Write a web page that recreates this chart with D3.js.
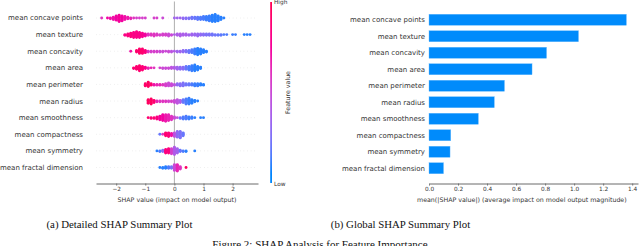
<!DOCTYPE html>
<html><head><meta charset="utf-8">
<script src="https://cdn.jsdelivr.net/npm/d3@7"></script>
<style>body{margin:0;background:#fff}svg{display:block}</style>
</head><body>
<svg id="c" width="640" height="246"></svg>
<script>
// ---------- data ----------
const features = ["mean concave points","mean texture","mean concavity","mean area","mean perimeter","mean radius","mean smoothness","mean compactness","mean symmetry","mean fractal dimension"];
const meanAbsShap = [1.36,1.03,0.81,0.71,0.52,0.45,0.34,0.15,0.145,0.10];
const binWidth = 0.1;
const binStart = [-2.5,-1.7,-1.5,-1.4,-1.0,-0.9,-0.9,-0.5,-0.6,-0.5];
const binCounts = [
  [1,0,1,2,4,7,10,8,5,3,2,1,1,1,1,1,0,0,1,1,0,1,0,0,0,1,1,1,2,2,2,3,3,4,4,5,6,8,10,11,8,4,1],
  [2,4,6,8,9,8,6,4,3,3,4,3,2,3,3,4,2,1,3,4,3,3,2,3,3,4,3,3,3,3,3,2,2,2,1,1,0,1,1,0,0,1,1,1],
  [1,0,3,7,7,4,2,2,2,2,2,2,1,2,2,1,2,2,3,3,4,5,8,10,8,5,2],
  [2,5,8,6,3,2,1,1,0,1,2,2,2,3,3,4,4,4,5,6,8,9,6,3],
  [4,7,3,2,2,2,2,4,5,4,2,3,4,5,3,3,3,4,4,3,2],
  [6,8,4,2,2,2,2,2,2,4,6,4,5,8,9,6,3,1],
  [1,2,2,4,6,9,10,9,6,3,1,2,4,5,4,3,1,0,1,1],
  [1,1,5,6,4,6,9,10,5],
  [1,2,3,6,7,8,11,7,3,2,2,0,0,1],
  [1,2,3,3,3,9,10,4,0,1]
];
const binFeatureValue = [
  [0.6,0.6,0.72,0.7,0.7,0.72,0.75,0.72,0.7,0.68,0.65,0.6,0.55,0.55,0.55,0.55,0.55,0.55,0.55,0.55,0.5,0.5,0.45,0.45,0.4,0.35,0.35,0.35,0.3,0.28,0.25,0.22,0.2,0.18,0.15,0.14,0.12,0.12,0.1,0.1,0.1,0.1,0.1],
  [0.82,0.85,0.85,0.82,0.82,0.8,0.78,0.72,0.6,0.6,0.6,0.58,0.55,0.55,0.55,0.5,0.5,0.4,0.4,0.4,0.38,0.38,0.35,0.35,0.33,0.32,0.3,0.28,0.25,0.25,0.22,0.22,0.2,0.18,0.15,0.15,0.12,0.12,0.12,0.1,0.1,0.1,0.1,0.1],
  [0.7,0.8,0.9,0.92,0.9,0.85,0.6,0.55,0.55,0.55,0.5,0.5,0.5,0.5,0.45,0.4,0.35,0.35,0.3,0.25,0.2,0.15,0.12,0.1,0.1,0.1,0.1],
  [0.88,0.9,0.9,0.88,0.8,0.65,0.65,0.6,0.6,0.55,0.5,0.5,0.5,0.45,0.4,0.35,0.3,0.28,0.2,0.15,0.12,0.1,0.1,0.1],
  [0.92,0.95,0.9,0.7,0.65,0.65,0.6,0.55,0.5,0.5,0.45,0.3,0.28,0.25,0.22,0.2,0.15,0.12,0.12,0.1,0.1],
  [0.95,0.95,0.9,0.65,0.6,0.6,0.6,0.55,0.55,0.5,0.45,0.4,0.2,0.15,0.12,0.1,0.1,0.1],
  [0.9,0.88,0.88,0.85,0.75,0.72,0.68,0.65,0.6,0.5,0.45,0.2,0.15,0.15,0.12,0.12,0.1,0.1,0.1,0.1],
  [0.2,0.6,0.9,0.85,0.7,0.45,0.3,0.25,0.2],
  [0.1,0.15,0.3,0.85,0.85,0.55,0.4,0.35,0.2,0.15,0.1,0.1,0.1,0.1],
  [0.1,0.1,0.1,0.15,0.25,0.5,0.65,0.6,0.5,0.95]
];
const shapTicks = [-2,-1,0,1,2];
const barTicks = [0,0.2,0.4,0.6,0.8,1.0,1.2,1.4];

// ---------- setup ----------
const svg = d3.select("#c");
const font = "DejaVu Sans, sans-serif";
const serif = "Liberation Serif, Times New Roman, serif";
const shapColor = t => d3.hcl(266.9 + t*(380.3-266.9), 70 + t*20, 54).formatHex();

// ---------- left: beeswarm ----------
const xS = d3.scaleLinear().domain([-2.694, 2.873]).range([96, 258]);
const yRow = d3.scalePoint().domain(features).range([18, 167.5]);
const axisY = 183.5;

const L = svg.append("g");
L.selectAll("line.guide").data(features).join("line")
  .attr("x1", xS.range()[0]).attr("x2", xS.range()[1])
  .attr("y1", d=>yRow(d)).attr("y2", d=>yRow(d))
  .attr("stroke","#cccccc").attr("stroke-width",0.5).attr("stroke-dasharray","0.6,3");
L.append("line").attr("x1",xS(0)).attr("x2",xS(0)).attr("y1",1.5).attr("y2",axisY)
  .attr("stroke","#999999").attr("stroke-width",0.8);

const step = 0.72;
const pts = [];
features.forEach((f,i)=>{
  binCounts[i].forEach((n,j)=>{
    const v = binStart[i] + j*binWidth;
    for(let k=0;k<n;k++){
      const off = k===0 ? 0 : (k%2 ? Math.ceil(k/2) : -k/2);
      pts.push({v, y: yRow(f) + off*step, fv: binFeatureValue[i][j]});
    }
  });
});
L.selectAll("circle").data(pts).join("circle")
  .attr("cx", d=>xS(d.v)).attr("cy", d=>d.y).attr("r",1.45)
  .attr("fill", d=>shapColor(d.fv));

L.selectAll("text.feat").data(features).join("text")
  .attr("x",83).attr("y",d=>yRow(d)).attr("dy","0.35em")
  .attr("text-anchor","end").attr("font-family",font).attr("font-size",7)
  .attr("fill","#333").text(d=>d);

const ax1 = L.append("g").attr("transform",`translate(0,${axisY})`)
  .call(d3.axisBottom(xS).tickValues(shapTicks).tickFormat(d3.format("d")).tickSize(2.2).tickSizeOuter(0).tickPadding(1.5));
ax1.select(".domain").attr("stroke","#444").attr("stroke-width",0.8);
ax1.selectAll(".tick line").attr("stroke","#444").attr("stroke-width",0.6);
ax1.selectAll(".tick text").attr("font-family",font).attr("font-size",5.8).attr("fill","#333");
L.append("text").attr("x",(xS.range()[0]+xS.range()[1])/2).attr("y",201.5)
  .attr("text-anchor","middle").attr("font-family",font).attr("font-size",6.3).attr("fill","#333")
  .text("SHAP value (impact on model output)");

// colorbar
const defs = svg.append("defs");
const grad = defs.append("linearGradient").attr("id","cb").attr("x1",0).attr("y1",1).attr("x2",0).attr("y2",0);
d3.range(0,1.0001,0.05).forEach(t=>grad.append("stop").attr("offset",t).attr("stop-color",shapColor(t)));
L.append("rect").attr("x",270.2).attr("y",2).attr("width",1.8).attr("height",181).attr("fill","url(#cb)");
L.append("text").attr("x",274).attr("y",4.2).attr("font-family",font).attr("font-size",5.8).attr("fill","#333").text("High");
L.append("text").attr("x",274).attr("y",185.5).attr("font-family",font).attr("font-size",5.8).attr("fill","#333").text("Low");
L.append("text").attr("transform","translate(290,92.5) rotate(-90)").attr("text-anchor","middle")
  .attr("font-family",font).attr("font-size",6.3).attr("fill","#333").text("Feature value");

// ---------- right: bar summary ----------
const xB = d3.scaleLinear().domain([0,1.44]).range([429,638]);
const yB = d3.scaleBand().domain(features).range([11.5,176.5]).paddingInner(0.33).paddingOuter(0.165);
const R = svg.append("g");
R.selectAll("rect.bar").data(features).join("rect")
  .attr("x",xB(0)).attr("y",d=>yB(d)).attr("height",yB.bandwidth())
  .attr("width",(d,i)=>xB(meanAbsShap[i])-xB(0))
  .attr("fill","#008bfb").attr("stroke","#6fbcfd").attr("stroke-width",0.4);
R.selectAll("text.feat").data(features).join("text")
  .attr("x",425).attr("y",d=>yB(d)+yB.bandwidth()/2).attr("dy","0.35em")
  .attr("text-anchor","end").attr("font-family",font).attr("font-size",7)
  .attr("fill","#333").text(d=>d);
const ax2 = R.append("g").attr("transform",`translate(0,${axisY})`)
  .call(d3.axisBottom(xB).tickValues(barTicks).tickFormat(d3.format(".1f")).tickSize(2.2).tickSizeOuter(0).tickPadding(1.5));
ax2.select(".domain").attr("stroke","#444").attr("stroke-width",0.8);
ax2.selectAll(".tick line").attr("stroke","#444").attr("stroke-width",0.6);
ax2.selectAll(".tick text").attr("font-family",font).attr("font-size",5.8).attr("fill","#333");
R.append("text").attr("x",417).attr("y",201.5)
  .attr("font-family",font).attr("font-size",6.3).attr("fill","#333")
  .text("mean(|SHAP value|) (average impact on model output magnitude)");

// ---------- captions ----------
svg.append("text").attr("x",119.5).attr("y",227.5).attr("text-anchor","middle")
  .attr("font-family",serif).attr("font-size",10.8).attr("fill","#111").text("(a) Detailed SHAP Summary Plot");
svg.append("text").attr("x",400.5).attr("y",227.5).attr("text-anchor","middle")
  .attr("font-family",serif).attr("font-size",10.8).attr("fill","#111").text("(b) Global SHAP Summary Plot");
svg.append("text").attr("x",320).attr("y",248).attr("text-anchor","middle")
  .attr("font-family",serif).attr("font-size",11).attr("fill","#111").text("Figure 2: SHAP Analysis for Feature Importance");
</script>
</body></html>
